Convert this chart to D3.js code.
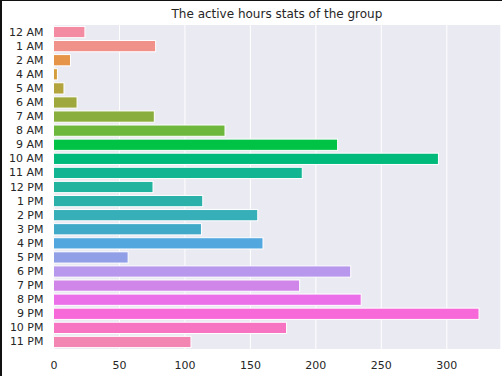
<!DOCTYPE html>
<html lang="en">
<head>
<meta charset="utf-8">
<title>Active hours</title>
<script src="https://d3js.org/d3.v7.min.js"></script>
<style>
  body { margin: 0; background: #fff; }
  text { font-family: "DejaVu Sans", sans-serif; fill: #262626; }
</style>
</head>
<body>
<script>
// data
const hours = ["12 AM", "1 AM", "2 AM", "4 AM", "5 AM", "6 AM", "7 AM", "8 AM", "9 AM",
               "10 AM", "11 AM", "12 PM", "1 PM", "2 PM", "3 PM", "4 PM", "5 PM", "6 PM",
               "7 PM", "8 PM", "9 PM", "10 PM", "11 PM"];
const counts = [24, 78, 13, 3, 8, 18, 77, 131, 217, 294, 190, 76, 114, 156, 113, 160,
                57, 227, 188, 235, 325, 178, 105];
const xTicks = [0, 50, 100, 150, 200, 250, 300];

// bar colours (husl-like palette)
const colors = ["#f38ba3", "#f0918a", "#e69447", "#d59e3d", "#b3a43e", "#9fa83d", "#8aae3d",
                "#6db73d", "#00c245", "#00ba7c", "#12b592", "#22b39f", "#2bb1aa", "#36afb9",
                "#42aac9", "#52a7de", "#919fe7", "#b898ec", "#d085e9", "#eb6fe9", "#f768d9",
                "#f674c1", "#f385b3"];

const w = 502, h = 376;
const mLeft = 53.5, mRight = 500.3, mTop = 25, mBottom = 349;

const svg = d3.select("body").append("svg")
    .attr("width", w)
    .attr("height", h);

svg.append("rect").attr("width", w).attr("height", h).attr("fill", "#fff");

const xScale = d3.scaleLinear()
    .domain([0, d3.max(counts) * 1.05])
    .range([mLeft, mRight]);

const yScale = d3.scaleBand()
    .domain(hours)
    .range([mTop, mBottom])
    .paddingInner(0.2)
    .paddingOuter(0.1);

// plot background
svg.append("rect")
    .attr("x", mLeft)
    .attr("y", mTop)
    .attr("width", mRight - mLeft)
    .attr("height", mBottom - mTop)
    .attr("fill", "#eaeaf2");

// vertical grid
svg.append("g")
    .attr("transform", "translate(0," + mBottom + ")")
    .call(d3.axisBottom(xScale).tickValues(xTicks).tickSize(-(mBottom - mTop)).tickFormat(""))
    .call(g => g.select(".domain").remove())
    .call(g => g.selectAll("line").attr("stroke", "#fff").attr("stroke-width", 1));

// bars
svg.append("g")
    .selectAll("rect")
    .data(hours)
    .join("rect")
    .attr("x", xScale(0))
    .attr("y", d => yScale(d))
    .attr("width", (d, i) => xScale(counts[i]) - xScale(0))
    .attr("height", yScale.bandwidth())
    .attr("fill", (d, i) => colors[i])
    .attr("stroke", "#fff")
    .attr("stroke-width", 1);

// x tick labels
const bottomAxis = d3.axisBottom(xScale).tickValues(xTicks).tickSize(0).tickPadding(12);
svg.append("g")
    .attr("transform", "translate(0," + mBottom + ")")
    .call(bottomAxis)
    .call(g => g.select(".domain").remove())
    .call(g => g.selectAll("text").attr("font-size", "11px").attr("font-family", null));

// y tick labels
const leftAxis = d3.axisLeft(yScale).tickSize(0).tickPadding(10);
svg.append("g")
    .attr("transform", "translate(" + mLeft + ",0)")
    .call(leftAxis)
    .call(g => g.select(".domain").remove())
    .call(g => g.selectAll("text").attr("font-size", "11px").attr("font-family", null));

// title
svg.append("text")
    .attr("x", (mLeft + mRight) / 2)
    .attr("y", 18)
    .attr("text-anchor", "middle")
    .attr("font-size", "12px")
    .text("The active hours stats of the group");

// dark frame on left and top edges
svg.append("rect").attr("x", 0).attr("y", 0).attr("width", 2).attr("height", h).attr("fill", "#111");
svg.append("rect").attr("x", 0).attr("y", 0).attr("width", w).attr("height", 1).attr("fill", "#111");
</script>
</body>
</html>
